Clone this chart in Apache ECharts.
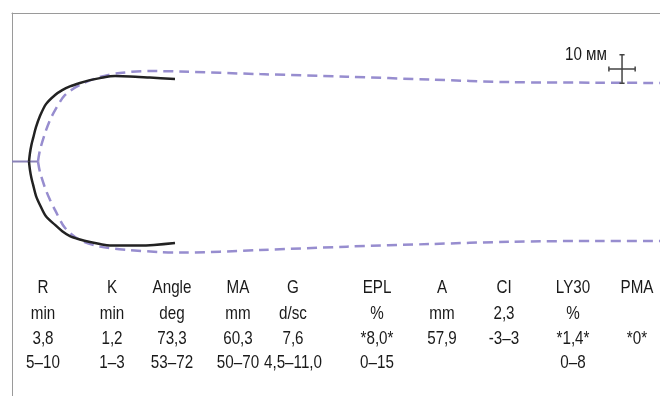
<!DOCTYPE html>
<html>
<head>
<meta charset="utf-8">
<script src="https://cdn.jsdelivr.net/npm/echarts@6/dist/echarts.min.js"></script>
<style>
html,body{margin:0;padding:0;background:#fff;}
#chart{width:660px;height:396px;}
</style>
</head>
<body>
<div id="chart"></div>
<script>
// ---- data (time in mm of trace, amplitude in mm; upper branch +, lower branch -) ----
var baseline = [[0, 0], [9.1, 0]];
var patientUpper = [[5.95,0],[6.3,3.0],[6.8,5.8],[7.4,8.2],[8.4,12.0],[9.8,15.9],[11.9,20.1],[15.1,23.3],[17.6,25.0],[20.3,26.3],[23.8,27.5],[27.3,28.5],[30.8,29.2],[36.1,29.9],[41.3,29.8],[48.3,29.4],[57.1,28.9]];
var patientLower = [[5.95,0],[6.3,-3.0],[6.8,-5.8],[7.4,-8.2],[8.4,-12.0],[9.8,-15.2],[11.9,-19.2],[15.1,-22.2],[17.6,-24.4],[20.3,-26.1],[23.8,-27.3],[27.3,-28.2],[30.8,-28.9],[34.3,-29.4],[44.8,-29.4],[57.1,-28.5]];
var normalUpper = [[9.1,0],[9.8,4.0],[11.6,10.0],[13.3,14.5],[15.1,18.0],[18.6,23.3],[23.8,26.8],[30.8,29.6],[37.8,31.0],[48.3,31.7],[58.8,31.5],[86.9,30.6],[117.3,29.7],[146.4,28.7],[174.4,27.8],[206,27.6],[227,27.5]];
var normalLower = [[9.1,0],[9.8,-3.7],[11.6,-9.3],[13.3,-13.4],[15.1,-17.0],[18.6,-23.3],[23.8,-27.5],[30.8,-29.8],[41.3,-31.0],[51.8,-31.7],[58.8,-31.9],[86.9,-31.0],[117.3,-29.8],[146.4,-28.9],[174.4,-28.1],[206,-27.8],[227,-27.8]];
var scaleBarLabel = '10 мм';
var scaleBarLength = 10;

var paramNames  = ['R', 'K', 'Angle', 'MA', 'G', 'EPL', 'A', 'CI', 'LY30', 'PMA'];
var paramUnits  = ['min', 'min', 'deg', 'mm', 'd/sc', '%', 'mm', '2,3', '%', ''];
var paramValues = ['3,8', '1,2', '73,3', '60,3', '7,6', '*8,0*', '57,9', '-3–3', '*1,4*', '*0*'];
var paramRanges = ['5–10', '1–3', '53–72', '50–70', '4,5–11,0', '0–15', '', '', '0–8', ''];

// ---- layout ----
var colX = [43, 112, 172, 238, 293, 377, 442, 504, 573, 637];
var rowY = [288, 314, 339, 363];
var FONT = '"Liberation Sans",Arial,sans-serif';
var FONT_SIZE = 19;
var NARROW = 0.8;

var chart = echarts.init(document.getElementById('chart'), null, {renderer: 'canvas'});

// scale bar (cross) built in data units
var sbX = 213.7, sbY = 32.4;
var half = scaleBarLength / 2;
var hx = 4.6;
var cap = 0.9;
var scaleBar = [
  [sbX, sbY - half], [sbX, sbY + half], null,
  [sbX - hx, sbY], [sbX + hx, sbY], null,
  [sbX - cap, sbY + half], [sbX + cap, sbY + half], null,
  [sbX - cap, sbY - half], [sbX + cap, sbY - half], null,
  [sbX - hx, sbY - cap], [sbX - hx, sbY + cap], null,
  [sbX + hx, sbY - cap], [sbX + hx, sbY + cap]
];

var rows = [paramNames, paramUnits, paramValues, paramRanges];
var texts = [];
rows.forEach(function (row, r) {
  row.forEach(function (t, c) {
    if (!t) return;
    texts.push({
      type: 'text',
      x: colX[c], y: rowY[r], scaleX: NARROW,
      style: {text: t, fill: '#1a1a1a', font: FONT_SIZE + 'px ' + FONT, textAlign: 'center', textVerticalAlign: 'middle'}
    });
  });
});
texts.push({
  type: 'text', x: 607, y: 55, scaleX: NARROW,
  style: {text: scaleBarLabel, fill: '#1a1a1a', font: FONT_SIZE + 'px ' + FONT, textAlign: 'right', textVerticalAlign: 'middle'}
});

var dashColor = '#978dcf';

chart.setOption({
  animation: false,
  grid: {left: 12, right: 0, top: 13, bottom: 0},
  xAxis: {
    type: 'value', min: 0, max: 227, position: 'top',
    axisLine: {show: true, onZero: false, lineStyle: {color: '#9a9a9a', width: 1}},
    axisTick: {show: false}, axisLabel: {show: false}, splitLine: {show: false}
  },
  yAxis: {
    type: 'value', min: -82.1, max: 52,
    axisLine: {show: true, onZero: false, lineStyle: {color: '#9a9a9a', width: 1}},
    axisTick: {show: false}, axisLabel: {show: false}, splitLine: {show: false}
  },
  series: [
    {type: 'line', data: baseline, symbol: 'none', lineStyle: {color: '#8a82b8', width: 2}},
    {type: 'line', data: normalUpper, symbol: 'none', smooth: 0.3, lineStyle: {color: dashColor, width: 2.5, type: [10, 6]}},
    {type: 'line', data: normalLower, symbol: 'none', smooth: 0.3, lineStyle: {color: dashColor, width: 2.5, type: [10, 6]}},
    {type: 'line', data: patientUpper, symbol: 'none', smooth: 0.3, lineStyle: {color: '#222222', width: 2.5}},
    {type: 'line', data: patientLower, symbol: 'none', smooth: 0.3, lineStyle: {color: '#222222', width: 2.5}},
    {type: 'line', data: scaleBar, symbol: 'none', connectNulls: false, lineStyle: {color: '#444444', width: 1.5}}
  ],
  graphic: texts
});
</script>
</body>
</html>
